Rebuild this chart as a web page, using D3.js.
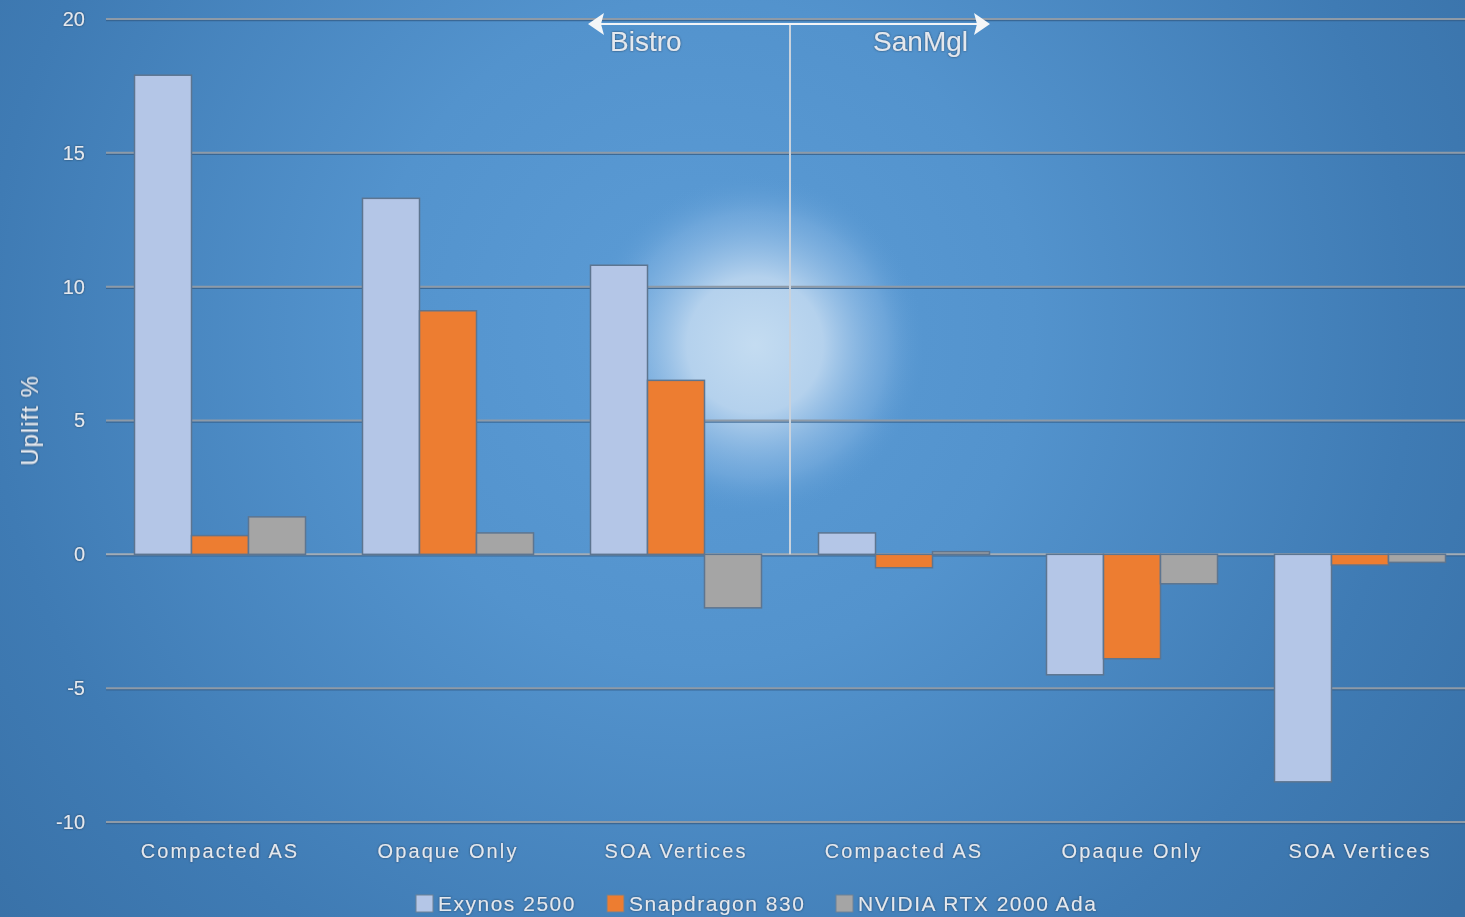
<!DOCTYPE html>
<html>
<head>
<meta charset="utf-8">
<script src="https://cdn.jsdelivr.net/npm/d3@7"></script>
<style>
  html, body { margin: 0; padding: 0; background: #4a86c0; }
  svg { display: block; }
  .lbl { fill: #e4e8ee; font-family: "Liberation Sans", Arial, sans-serif; }
</style>
</head>
<body>
<svg id="chart" width="1465" height="917"></svg>
<script>
// Benchmark groups (scene / test) and per-GPU uplift in percent
const scenes = ["Bistro", "SanMgl"];
const tests = ["Compacted AS", "Opaque Only", "SOA Vertices"];
const categories = ["Bistro|Compacted AS", "Bistro|Opaque Only", "Bistro|SOA Vertices",
                    "SanMgl|Compacted AS", "SanMgl|Opaque Only", "SanMgl|SOA Vertices"];
const seriesNames = ["Exynos 2500", "Snapdragon 830", "NVIDIA RTX 2000 Ada"];
const exynos     = [17.9, 13.3, 10.8, 0.8, -4.5, -8.5];
const snapdragon = [0.7, 9.1, 6.5, -0.5, -3.9, -0.4];
const nvidia     = [1.4, 0.8, -2.0, 0.1, -1.1, -0.3];
const yTicks = [-10, -5, 0, 5, 10, 15, 20];
const colors = ["#b4c6e7", "#ed7d31", "#a5a5a5"];

const seriesValues = [exynos, snapdragon, nvidia];

const W = 1465, H = 917;
const svg = d3.select("#chart");
const defs = svg.append("defs");

// Background: broad radial blue gradient, darker toward the edges, plus a soft light spot
const bg = defs.append("radialGradient").attr("id", "bg")
  .attr("cx", 700).attr("cy", 330).attr("r", 950).attr("gradientUnits", "userSpaceOnUse");
bg.append("stop").attr("offset", "0%").attr("stop-color", "#5c9cd6");
bg.append("stop").attr("offset", "35%").attr("stop-color", "#5393cd");
bg.append("stop").attr("offset", "75%").attr("stop-color", "#3f7bb4");
bg.append("stop").attr("offset", "100%").attr("stop-color", "#3870a6");
const rg = defs.append("radialGradient").attr("id", "glow")
  .attr("cx", 755).attr("cy", 345).attr("r", 170).attr("gradientUnits", "userSpaceOnUse");
rg.append("stop").attr("offset", "0%").attr("stop-color", "#c4dcf1").attr("stop-opacity", 1);
rg.append("stop").attr("offset", "40%").attr("stop-color", "#bcd6ef").attr("stop-opacity", 0.92);
rg.append("stop").attr("offset", "78%").attr("stop-color", "#8fbbe6").attr("stop-opacity", 0.4);
rg.append("stop").attr("offset", "100%").attr("stop-color", "#5b9bd5").attr("stop-opacity", 0);

const shadow = defs.append("filter").attr("id", "tshadow")
  .attr("x", "-10%").attr("y", "-30%").attr("width", "120%").attr("height", "160%");
shadow.append("feDropShadow").attr("dx", 0).attr("dy", 0).attr("stdDeviation", 1.1)
  .attr("flood-color", "#203a55").attr("flood-opacity", 0.9);

svg.append("rect").attr("width", W).attr("height", H).attr("fill", "url(#bg)");
svg.append("rect").attr("width", W).attr("height", H).attr("fill", "url(#glow)");

// Scales
const x0 = d3.scaleBand().domain(categories).range([106, 1474]).paddingInner(0.25).paddingOuter(0.125);
const x1 = d3.scaleBand().domain(seriesNames).range([0, x0.bandwidth()]);
const y = d3.scaleLinear().domain([-10, 20]).range([822, 19]);

// Gridlines
const grid = svg.append("g");
yTicks.forEach(t => {
  grid.append("line").attr("x1", 106).attr("x2", W).attr("y1", y(t) + 1.5).attr("y2", y(t) + 1.5)
    .attr("stroke", "#355f8a").attr("stroke-width", 1.5).attr("opacity", 0.8);
  grid.append("line").attr("x1", 106).attr("x2", W).attr("y1", y(t)).attr("y2", y(t))
    .attr("stroke", t === 0 ? "#a2acb6" : "#8e9aa7").attr("stroke-width", 2);
});

// Y axis tick labels
const yAxis = d3.axisLeft(y).tickValues(yTicks).tickSize(0).tickPadding(0);
const ya = svg.append("g").attr("transform", "translate(85,0)").call(yAxis);
ya.select(".domain").remove();
ya.selectAll("text").attr("class", "lbl").attr("font-size", 20).attr("filter", "url(#tshadow)")
  .attr("dy", "0.32em").text(d => d < 0 ? "-" + Math.abs(d) : d);

// Y axis title
svg.append("text").attr("class", "lbl").attr("font-size", 24).attr("letter-spacing", "1px")
  .attr("filter", "url(#tshadow)")
  .attr("transform", `translate(38,${y(5)}) rotate(-90)`).attr("text-anchor", "middle")
  .text("Uplift %");

// Bars
const groups = svg.append("g").selectAll("g").data(categories).join("g")
  .attr("transform", d => `translate(${x0(d)},0)`);
groups.selectAll("rect").data((d, i) => seriesNames.map((s, j) => ({ s, j, v: seriesValues[j][i] })))
  .join("rect")
  .attr("x", d => x1(d.s))
  .attr("width", x1.bandwidth())
  .attr("y", d => y(Math.max(0, d.v)))
  .attr("height", d => Math.max(1, Math.abs(y(d.v) - y(0))))
  .attr("fill", d => colors[d.j])
  .attr("stroke", "#5d7590").attr("stroke-width", 1.5);

// Category labels
const xAxis = d3.axisBottom(x0).tickSize(0).tickPadding(0).tickFormat(d => d.split("|")[1]);
const xa = svg.append("g").attr("transform", "translate(0,844)").call(xAxis);
xa.select(".domain").remove();
xa.selectAll("text").attr("class", "lbl").attr("font-size", 20).attr("letter-spacing", "2.1px")
  .attr("filter", "url(#tshadow)").attr("dy", "0.7em");

// Scene divider and bracket arrows
const divX = (x0(categories[2]) + x0.bandwidth() + x0(categories[3])) / 2;
const ann = svg.append("g");
ann.append("line").attr("x1", divX).attr("x2", divX).attr("y1", 24).attr("y2", y(0))
  .attr("stroke", "#c9d2dc").attr("stroke-width", 2);
ann.append("line").attr("x1", 596).attr("x2", 980).attr("y1", 24).attr("y2", 24)
  .attr("stroke", "#f2f4f7").attr("stroke-width", 2);
ann.append("path").attr("d", "M588,24 L604,13 L601,24 L604,35 Z").attr("fill", "#f4f6f8");
ann.append("path").attr("d", "M990,24 L974,13 L977,24 L974,35 Z").attr("fill", "#f4f6f8");
ann.append("text").attr("class", "lbl").attr("font-size", 28).attr("filter", "url(#tshadow)")
  .attr("x", 610).attr("y", 51).text(scenes[0]);
ann.append("text").attr("class", "lbl").attr("font-size", 28).attr("filter", "url(#tshadow)")
  .attr("x", 968).attr("y", 51).attr("text-anchor", "end").text(scenes[1]);

// Legend
const legend = svg.append("g").attr("transform", "translate(0,904)");
const legX = [416, 607, 836];
seriesNames.forEach((s, i) => {
  const g = legend.append("g").attr("transform", `translate(${legX[i]},0)`);
  g.append("rect").attr("x", 0).attr("y", -9).attr("width", 17).attr("height", 17)
    .attr("fill", colors[i]).attr("stroke", "#6e8296").attr("stroke-width", 1);
  g.append("text").attr("class", "lbl").attr("font-size", 21).attr("letter-spacing", "1.5px")
    .attr("filter", "url(#tshadow)").attr("x", 22).attr("dy", "0.35em").text(s);
});
</script>
</body>
</html>
